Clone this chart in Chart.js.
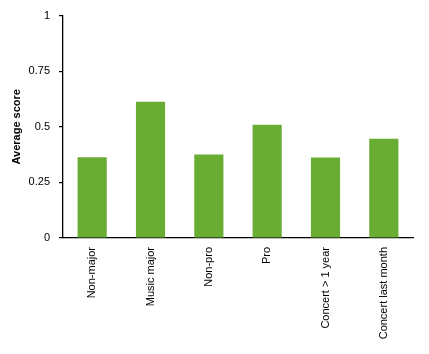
<!DOCTYPE html>
<html>
<head>
<meta charset="utf-8">
<script src="https://cdn.jsdelivr.net/npm/chart.js@4"></script>
<style>
  html, body { margin: 0; padding: 0; background: #fff; }
  #wrap { width: 429px; height: 354px; }
</style>
</head>
<body>
<div id="wrap"><canvas id="chart" width="429" height="354"></canvas></div>
<script>
const categories = ['Non-major', 'Music major', 'Non-pro', 'Pro', 'Concert > 1 year', 'Concert last month'];
const scores = [0.363, 0.613, 0.375, 0.509, 0.362, 0.446];
const yTicks = [0, 0.25, 0.5, 0.75, 1];

const barColor = '#69ad35';
const font = { family: '"Liberation Sans", Arial, sans-serif', size: 11 };

new Chart(document.getElementById('chart'), {
  type: 'bar',
  data: {
    labels: categories,
    datasets: [{
      data: scores,
      backgroundColor: barColor,
      barPercentage: 0.5,
      categoryPercentage: 1
    }]
  },
  options: {
    responsive: false,
    animation: false,
    layout: { padding: { top: 14, right: 16, left: 0, bottom: 0 } },
    plugins: { legend: { display: false }, tooltip: { enabled: false } },
    scales: {
      x: {
        grid: { display: false },
        border: { color: '#000', width: 1.3 },
        ticks: {
          color: '#000',
          font: font,
          minRotation: 90,
          maxRotation: 90,
          padding: 1,
          autoSkip: false
        },
        afterFit: s => { s.height = 354 - 238; }
      },
      y: {
        min: 0,
        max: 1,
        afterBuildTicks: s => { s.ticks = yTicks.map(v => ({ value: v })); },
        grid: { drawOnChartArea: false, tickLength: 4, color: '#000', lineWidth: 1.2 },
        border: { color: '#000', width: 1.3 },
        ticks: { color: '#000', font: font, padding: 9, callback: v => String(v) },
        title: {
          display: true,
          text: 'Average score',
          color: '#000',
          font: { family: font.family, size: 11, weight: 'bold' },
          padding: { top: 10, bottom: 0 }
        },
        afterFit: s => { s.width = 63; }
      }
    }
  }
});
</script>
</body>
</html>
